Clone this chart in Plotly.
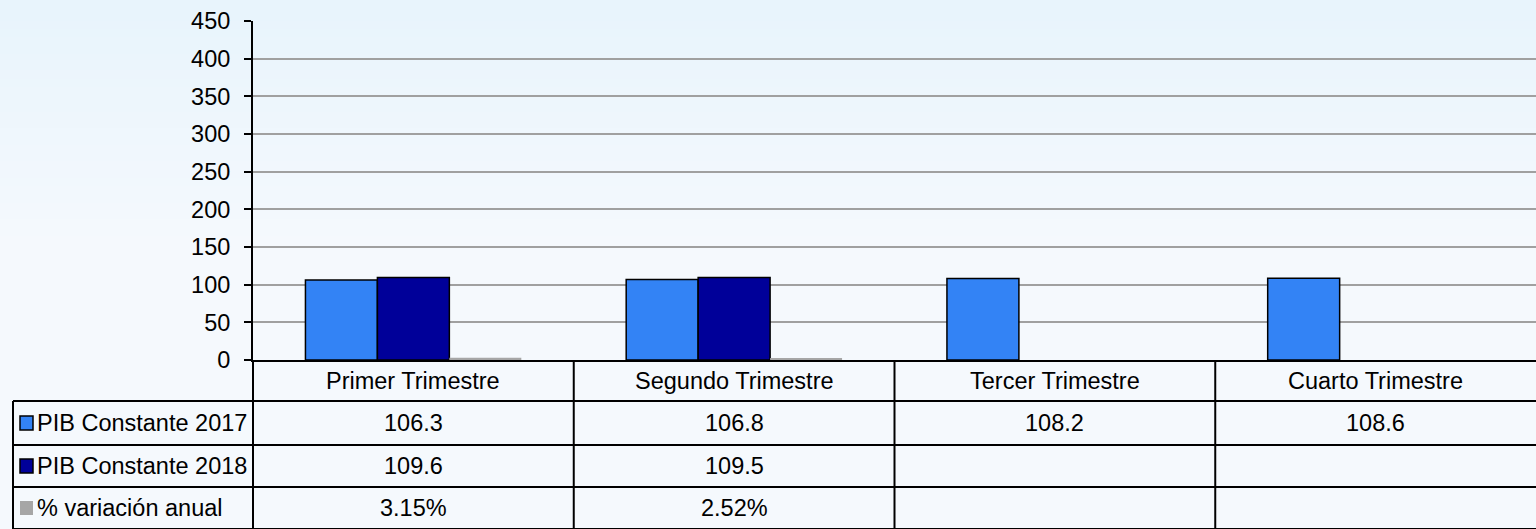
import base64, struct, zlib
import plotly.graph_objects as go

# ---------------- data ----------------
categories = ["Primer Trimestre", "Segundo Trimestre", "Tercer Trimestre", "Cuarto Trimestre"]
series_names = ["PIB Constante 2017", "PIB Constante 2018", "% variación anual"]
pib_2017 = [106.3, 106.8, 108.2, 108.6]
pib_2018 = [109.6, 109.5, None, None]
variacion = [3.15, 2.52, None, None]
table_2017 = ["106.3", "106.8", "108.2", "108.6"]
table_2018 = ["109.6", "109.5", "", ""]
table_var = ["3.15%", "2.52%", "", ""]
y_ticks = [0, 50, 100, 150, 200, 250, 300, 350, 400, 450]

# ---------------- styles ----------------
W, H = 1536, 529
ML, MR, MT, MB = 253, 0, 21, 169
PH = H - MT - MB
FONT = "Liberation Sans, Arial, sans-serif"
FS = 23.5
C17, C18, CVAR = "#3383F5", "#000099", "#A6A6A6"


def py(px):  # pixel row -> paper y
    return (H - MB - px) / PH


def px_x(px):  # pixel column -> paper x
    return (px - ML) / (W - ML - MR)


def gradient_png():
    top = (232, 244, 252)
    bot = (245, 249, 253)
    n = 64
    rows = b""
    for i in range(n):
        t = min(1.0, i / (n * 0.45))
        c = bytes(int(round(top[k] + (bot[k] - top[k]) * t)) for k in range(3))
        rows += b"\x00" + c
    def chunk(tag, data):
        return struct.pack(">I", len(data)) + tag + data + struct.pack(">I", zlib.crc32(tag + data) & 0xffffffff)
    png = b"\x89PNG\r\n\x1a\n" + chunk(b"IHDR", struct.pack(">IIBBBBB", 1, n, 8, 2, 0, 0, 0))
    png += chunk(b"IDAT", zlib.compress(rows)) + chunk(b"IEND", b"")
    return "data:image/png;base64," + base64.b64encode(png).decode()


fig = go.Figure()
fig.add_trace(go.Bar(name=series_names[0], x=categories, y=pib_2017,
                     marker=dict(color=C17, line=dict(color="black", width=1.5))))
fig.add_trace(go.Bar(name=series_names[1], x=categories, y=pib_2018,
                     marker=dict(color=C18, line=dict(color="black", width=1.5))))
fig.add_trace(go.Bar(name=series_names[2], x=categories, y=variacion,
                     marker=dict(color=CVAR, line=dict(width=0))))

shapes = []
annotations = []
line = dict(color="black", width=2)

row_lines = [401, 445, 487, 529]
row_centers = [423, 466, 508]
header_center = 381

for r in row_lines:
    shapes.append(dict(type="line", xref="paper", yref="paper", x0=px_x(13), x1=1, y0=py(r), y1=py(r), line=line))
shapes.append(dict(type="line", xref="paper", yref="paper", x0=px_x(13), x1=px_x(13), y0=py(401), y1=py(529), line=line))
shapes.append(dict(type="line", xref="paper", yref="paper", x0=0, x1=0, y0=0, y1=py(529), line=line))
for i in range(1, len(categories)):
    shapes.append(dict(type="line", xref="x", yref="paper", x0=i - 0.5, x1=i - 0.5, y0=0, y1=py(529), line=line))

for c in categories:
    annotations.append(dict(x=c, xref="x", y=py(header_center), yref="paper", text=c, showarrow=False,
                            xanchor="center", yanchor="middle", font=dict(family=FONT, size=FS, color="black")))
for row_vals, yc in zip([table_2017, table_2018, table_var], row_centers):
    for c, v in zip(categories, row_vals):
        if v:
            annotations.append(dict(x=c, xref="x", y=py(yc), yref="paper", text=v, showarrow=False,
                                    xanchor="center", yanchor="middle", font=dict(family=FONT, size=FS, color="black")))
for name, col, yc, outlined in zip(series_names, [C17, C18, CVAR], row_centers, [True, True, False]):
    shapes.append(dict(type="rect", xref="paper", yref="paper", x0=px_x(20), x1=px_x(33), y0=py(yc + 7), y1=py(yc - 7),
                       fillcolor=col, line=dict(color="black" if outlined else col, width=1.5 if outlined else 0)))
    annotations.append(dict(x=px_x(35), xref="paper", y=py(yc), yref="paper", text=name, showarrow=False,
                            xanchor="left", yanchor="middle", font=dict(family=FONT, size=FS, color="black")))

fig.update_layout(
    width=W, height=H,
    margin=dict(l=ML, r=MR, t=MT, b=MB, pad=0),
    paper_bgcolor="#f2f8fd",
    plot_bgcolor="white",
    barmode="group", bargap=0.327, bargroupgap=0,
    showlegend=False,
    font=dict(family=FONT, size=FS, color="black"),
    xaxis=dict(type="category", range=[-0.5, 3.5], showticklabels=False, ticks="",
               showline=True, linecolor="black", linewidth=2, showgrid=False, zeroline=False, fixedrange=True),
    yaxis=dict(range=[0, 450], tickvals=y_ticks, ticks="outside", ticklen=7, tickwidth=2, tickcolor="black",
               showline=True, linecolor="black", linewidth=2, showgrid=True, gridcolor="#a0a0a0", gridwidth=1.5,
               zeroline=False, ticklabelstandoff=9, tickfont=dict(family=FONT, size=FS, color="black")),
    shapes=shapes,
    annotations=annotations,
    images=[dict(source=gradient_png(), xref="paper", yref="paper", x=-ML / (W - ML), y=1 + MT / PH,
                 sizex=W / (W - ML), sizey=H / PH, sizing="stretch", layer="below", xanchor="left", yanchor="top")],
)

fig.write_html("out.html", config={"displayModeBar": False},
               post_script="document.body.style.margin='0';document.body.style.overflow='hidden';")
